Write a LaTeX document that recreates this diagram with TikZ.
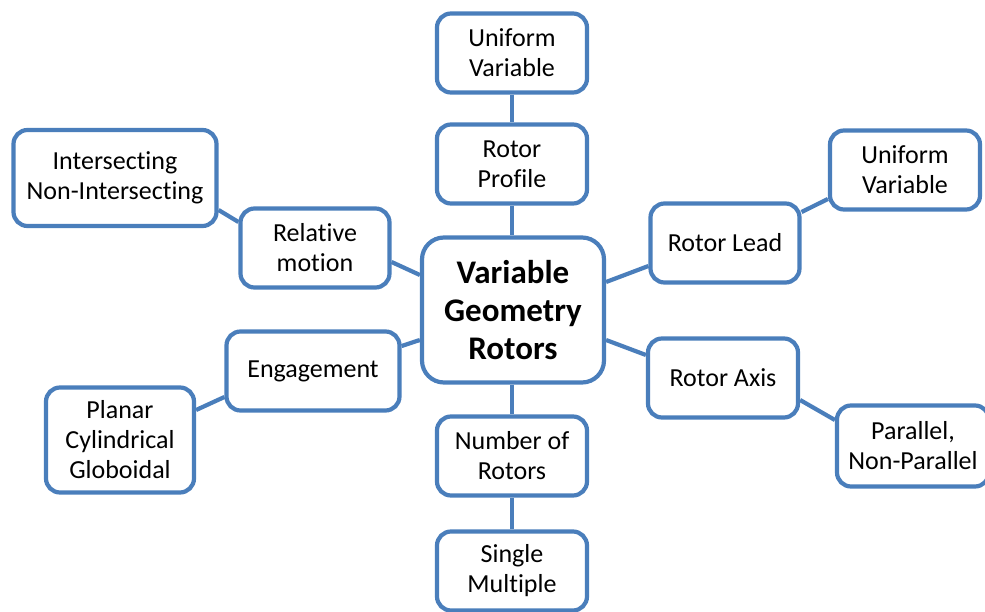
\documentclass[tikz,border=0pt]{standalone}
\usepackage{fontspec}
\setmainfont{Carlito}[RawFeature={-liga}]
\usetikzlibrary{calc}
\definecolor{bl}{HTML}{4A7EBB}
\begin{document}
\begin{tikzpicture}[x=1pt,y=-1pt,
  box/.style={draw=bl, line width=4.2pt, rounded corners=14pt, fill=white, align=center,
    font=\fontsize{26}{30}\selectfont, inner sep=0pt, minimum width=150pt, minimum height=79pt},
  link/.style={draw=bl, line width=4.2pt}]
\path[use as bounding box] (0,0) rectangle (985,612);
\node[box] (uv1) at (512,53) {Uniform\\Variable};
\node[box] (prof) at (512,164) {Rotor\\Profile};
\node[box, minimum width=182pt, minimum height=145pt, rounded corners=22pt,
  font=\fontsize{33}{38}\selectfont\bfseries] (ctr) at (513,310) {Variable\\Geometry\\Rotors};
\node[box, minimum width=203pt, minimum height=96pt] (int) at (115,178) {Intersecting\\Non-Intersecting};
\node[box, minimum width=149pt, minimum height=79pt] (rel) at (315,248) {Relative\\motion};
\node[box, minimum width=149pt] (lead) at (725,243) {Rotor Lead};
\node[box] (uv2) at (905,170) {Uniform\\Variable};
\node[box, minimum width=173pt, minimum height=79pt] (eng) at (313,371) {Engagement};
\node[box, minimum width=148pt, minimum height=105pt] (pla) at (120,440) {Planar\\Cylindrical\\Globoidal};
\node[box, minimum height=79pt] (axis) at (723,378) {Rotor Axis};
\node[box, minimum width=152pt, minimum height=81pt] (par) at (913,446) {Parallel,\\Non-Parallel};
\node[box] (num) at (512,456) {Number of\\Rotors};
\node[box] (sing) at (512,571) {Single\\Multiple};
\draw[link] (uv1.south) -- (prof.north);
\draw[link] (prof.south) -- (prof.south |- ctr.north);
\draw[link] (num.north |- ctr.south) -- (num.north);
\draw[link] (num.south) -- (sing.north);
\draw[link] ($(int.east)+(0,32)$) -- ($(rel.west)+(0,-26)$);
\draw[link] ($(rel.east)+(0,14)$) -- ($(ctr.west)+(0,-35)$);
\draw[link] ($(ctr.east)+(0,-28)$) -- ($(lead.west)+(0,23)$);
\draw[link] ($(lead.east)+(0,-31)$) -- ($(uv2.west)+(0,29)$);
\draw[link] ($(ctr.west)+(0,30)$) -- ($(eng.east)+(0,-25)$);
\draw[link] ($(eng.west)+(0,26)$) -- ($(pla.east)+(0,-30)$);
\draw[link] ($(ctr.east)+(0,30)$) -- ($(axis.west)+(0,-23)$);
\draw[link] ($(axis.east)+(0,22)$) -- ($(par.west)+(0,-26)$);
\end{tikzpicture}
\end{document}
